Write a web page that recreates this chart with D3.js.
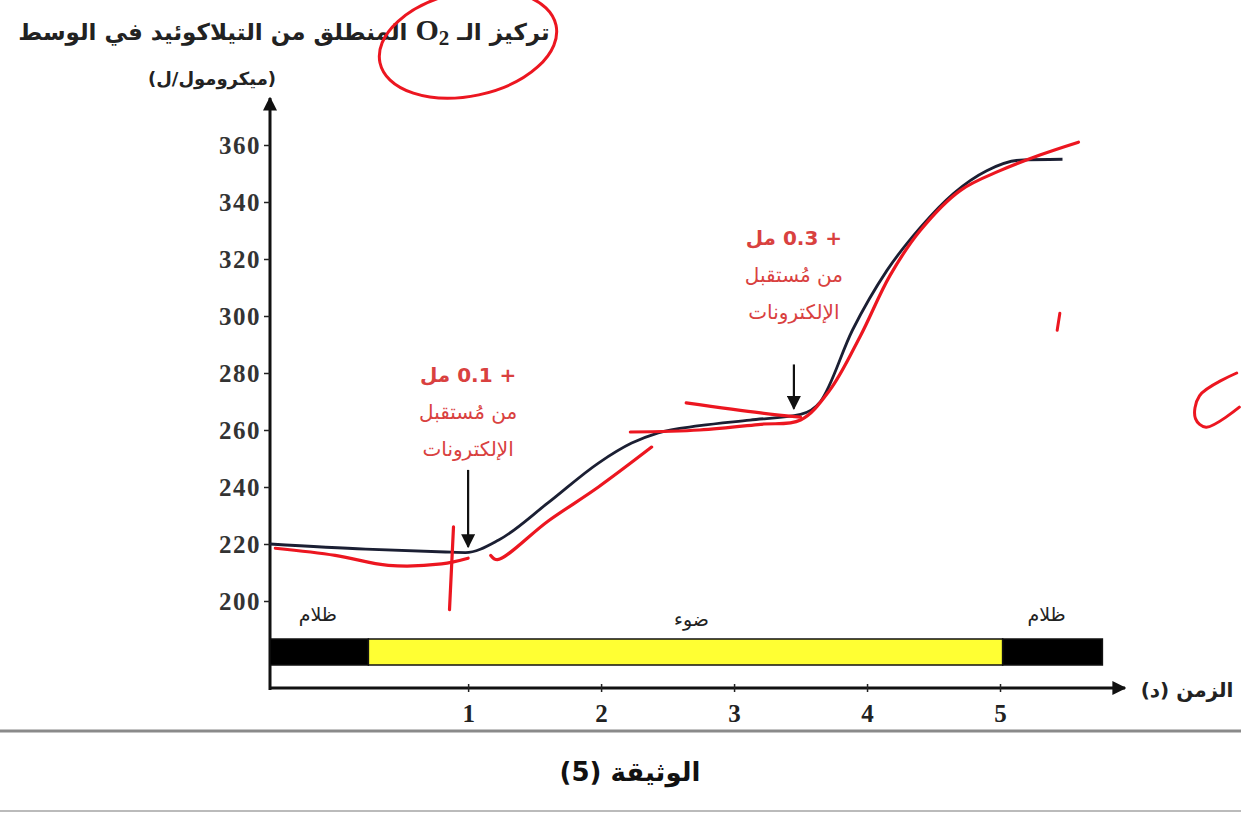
<!DOCTYPE html>
<html>
<head>
<meta charset="utf-8">
<script src="https://cdn.jsdelivr.net/npm/d3@7"></script>
<style>
  body { margin: 0; background: #fff; }
  svg { display: block; }
</style>
</head>
<body>
<div id="chart"></div>
<script>
// O2 released by thylakoids vs time (document 5)

const yTicks = [200, 220, 240, 260, 280, 300, 320, 340, 360];
const xTicks = [1, 2, 3, 4, 5];

// printed curve
const curveT = [-0.49, 0.23, 0.83, 0.98, 1.23, 1.6, 1.98, 2.23, 2.43, 2.74, 3.12, 3.5, 3.65, 3.89, 4.15, 4.4, 4.65, 4.9, 5.15, 5.47];
const curveV = [220, 218.2, 217.2, 217, 221.4, 234.4, 248.4, 255.4, 259, 261.5, 263.5, 265.5, 270, 295, 316, 331, 343, 351, 354.7, 355];

// pen trace drawn over it (several strokes)
const penT = [
  [-0.45, 0, 0.4, 0.8, 1.0],
  [1.17, 1.22, 1.6, 1.98, 2.38],
  [2.22, 2.74, 3.2, 3.5, 3.72, 3.95, 4.17, 4.4, 4.7, 5.0, 5.3, 5.59],
  [2.64, 3.2, 3.5],
  [0.89, 0.86]
];
const penV = [
  [218.5, 216, 212.5, 213, 215],
  [216, 214.5, 228, 240, 254],
  [259.3, 260, 262, 263.5, 274, 293, 314, 330, 344, 351, 356.5, 361],
  [269.5, 266, 264.5],
  [226, 197]
];

// light / dark periods along the time axis
const phaseStart = [-0.49, 0.25, 5.02];
const phaseEnd = [0.25, 5.02, 5.77];
const phaseFill = ['#000', '#ffff33', '#000'];
const phaseLabel = ['ظلام', 'ضوء', 'ظلام'];
const phaseLabelT = [-0.13, 2.68, 5.35];

// additions of electron acceptor
const addT = [1.0, 3.45];
const addLines = [
  ['+ 0.1 مل', 'من مُستقبل', 'الإلكترونات'],
  ['+ 0.3 مل', 'من مُستقبل', 'الإلكترونات']
];
const addTextV = [276.8, 325];
const addArrowFrom = [246, 283];
const addArrowTo = [219, 267.5];

const W = 1241, H = 813;
const ARABIC = "'DejaVu Sans', sans-serif";
const SERIF = "'Liberation Serif', 'DejaVu Serif', serif";

const svg = d3.select('#chart').append('svg')
  .attr('width', W).attr('height', H);

const defs = svg.append('defs');
defs.append('marker')
  .attr('id', 'ah').attr('viewBox', '0 0 10 10')
  .attr('refX', 9).attr('refY', 5)
  .attr('markerWidth', 14).attr('markerHeight', 14)
  .attr('markerUnits', 'userSpaceOnUse')
  .attr('orient', 'auto')
  .append('path').attr('d', 'M0,0 L10,5 L0,10 z').attr('fill', '#111');

const x = d3.scaleLinear().domain([-0.49, 5.94]).range([270, 1125]);
const y = d3.scaleLinear().domain([200, 360]).range([601, 145]);
const axisY = 688;

// y axis line with arrow
svg.append('line')
  .attr('x1', x(-0.49)).attr('x2', x(-0.49))
  .attr('y1', axisY + 2).attr('y2', 98)
  .attr('stroke', '#111').attr('stroke-width', 3)
  .attr('marker-end', 'url(#ah)');

// x axis line with arrow
svg.append('line')
  .attr('x1', x(-0.49) - 1).attr('x2', x(5.94))
  .attr('y1', axisY).attr('y2', axisY)
  .attr('stroke', '#111').attr('stroke-width', 3)
  .attr('marker-end', 'url(#ah)');

svg.append('g')
  .attr('transform', `translate(${x(-0.49)},0)`)
  .call(d3.axisLeft(y).tickValues(yTicks).tickSize(6).tickPadding(3))
  .call(g => g.select('.domain').remove())
  .call(g => g.selectAll('.tick line').attr('stroke', '#222').attr('stroke-width', 1.5))
  .call(g => g.selectAll('.tick text')
    .attr('fill', '#333').attr('font-family', SERIF)
    .attr('font-weight', 'bold').attr('font-size', 25)
    .attr('letter-spacing', 1.5));

svg.append('g')
  .attr('transform', `translate(0,${axisY})`)
  .call(d3.axisBottom(x).tickValues(xTicks).tickFormat(d3.format('d')).tickSize(4).tickPadding(12))
  .call(g => g.select('.domain').remove())
  .call(g => g.selectAll('.tick line').attr('stroke', '#222').attr('stroke-width', 1.5).attr('y1', -4))
  .call(g => g.selectAll('.tick text')
    .attr('fill', '#222').attr('font-family', SERIF)
    .attr('font-weight', 'bold').attr('font-size', 25));

// light bar
svg.append('g').selectAll('rect')
  .data(phaseStart)
  .join('rect')
  .attr('x', (d, i) => x(d))
  .attr('width', (d, i) => x(phaseEnd[i]) - x(d))
  .attr('y', 639).attr('height', 26)
  .attr('fill', (d, i) => phaseFill[i])
  .attr('stroke', '#111').attr('stroke-width', 1.5);

svg.append('g').selectAll('text')
  .data(phaseLabel)
  .join('text')
  .attr('x', (d, i) => x(phaseLabelT[i]))
  .attr('y', (d, i) => i === 1 ? 626 : 621)
  .attr('text-anchor', 'middle')
  .attr('font-family', ARABIC).attr('font-size', 19)
  .attr('fill', '#222')
  .text(d => d);

// printed curve
const line = d3.line()
  .x(d => x(d[0])).y(d => y(d[1]))
  .curve(d3.curveMonotoneX);

svg.append('path')
  .datum(curveT.map((t, i) => [t, curveV[i]]))
  .attr('d', line)
  .attr('fill', 'none')
  .attr('stroke', '#1b1f33').attr('stroke-width', 2.8);

// pen strokes
const penLine = d3.line()
  .x(d => x(d[0])).y(d => y(d[1]))
  .curve(d3.curveCatmullRom);

svg.append('g').selectAll('path')
  .data(penT.map((ts, k) => ts.map((t, i) => [t, penV[k][i]])))
  .join('path')
  .attr('d', penLine)
  .attr('fill', 'none')
  .attr('stroke', '#ec1620').attr('stroke-width', 3.2)
  .attr('stroke-linecap', 'round');

// electron acceptor annotations
addT.forEach((t, k) => {
  const g = svg.append('g');
  g.selectAll('text')
    .data(addLines[k])
    .join('text')
    .attr('x', x(t))
    .attr('y', (d, i) => y(addTextV[k]) + i * 37)
    .attr('text-anchor', 'middle')
    .attr('direction', 'rtl')
    .attr('font-family', ARABIC)
    .attr('font-size', 20)
    .attr('font-weight', (d, i) => i === 0 ? 'bold' : 'normal')
    .attr('fill', '#d9413f')
    .text(d => d);

  g.append('line')
    .attr('x1', x(t)).attr('x2', x(t))
    .attr('y1', y(addArrowFrom[k])).attr('y2', y(addArrowTo[k]))
    .attr('stroke', '#111').attr('stroke-width', 2.2)
    .attr('marker-end', 'url(#ah)');
});

// y axis title
const title = svg.append('text')
  .attr('x', 284).attr('y', 40)
  .attr('text-anchor', 'middle')
  .attr('direction', 'rtl')
  .attr('font-family', ARABIC).attr('font-weight', 'bold')
  .attr('font-size', 23).attr('fill', '#222');
title.append('tspan').text('تركيز الـ ');
title.append('tspan').attr('font-family', SERIF).attr('font-size', 30).text('O');
title.append('tspan').attr('font-family', SERIF).attr('font-size', 21).attr('dy', 5).text('2');
title.append('tspan').attr('dy', -5).text(' المنطلق من التيلاكوئيد في الوسط');

svg.append('text')
  .attr('x', 212).attr('y', 85)
  .attr('text-anchor', 'middle')
  .attr('direction', 'rtl')
  .attr('font-family', ARABIC).attr('font-weight', 'bold')
  .attr('font-size', 18).attr('fill', '#222')
  .text('(ميكرومول/ل)');

// pen circle around O2
svg.append('ellipse')
  .attr('cx', 468).attr('cy', 44).attr('rx', 90).attr('ry', 52)
  .attr('transform', 'rotate(-12 468 44)')
  .attr('fill', 'none')
  .attr('stroke', '#ec1620').attr('stroke-width', 3);

// x axis title
svg.append('text')
  .attr('x', 1187).attr('y', 697)
  .attr('text-anchor', 'middle')
  .attr('direction', 'rtl')
  .attr('font-family', ARABIC).attr('font-weight', 'bold')
  .attr('font-size', 20).attr('fill', '#222')
  .text('الزمن (د)');

// small pen marks on the right
const markT = [[5.45, 5.43], [6.78, 6.5, 6.47, 6.55, 6.8]];
const markV = [[301, 295], [280, 272, 264, 261, 268]];
svg.append('g').selectAll('path')
  .data(markT.map((ts, k) => ts.map((t, i) => [t, markV[k][i]])))
  .join('path')
  .attr('d', penLine)
  .attr('fill', 'none')
  .attr('stroke', '#ec1620').attr('stroke-width', 3)
  .attr('stroke-linecap', 'round');

// caption area
svg.append('line')
  .attr('x1', 0).attr('x2', W).attr('y1', 731).attr('y2', 731)
  .attr('stroke', '#8a8a8a').attr('stroke-width', 3);
svg.append('line')
  .attr('x1', 0).attr('x2', W).attr('y1', 811).attr('y2', 811)
  .attr('stroke', '#bbb').attr('stroke-width', 2);

svg.append('text')
  .attr('x', 630).attr('y', 781)
  .attr('text-anchor', 'middle')
  .attr('direction', 'rtl')
  .attr('font-family', ARABIC).attr('font-weight', 'bold')
  .attr('font-size', 26).attr('fill', '#111')
  .text('الوثيقة (5)');
</script>
</body>
</html>
